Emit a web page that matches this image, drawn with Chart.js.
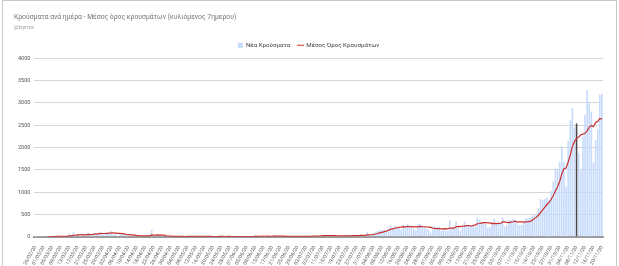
<!DOCTYPE html>
<html>
<head>
<meta charset="utf-8">
<script src="https://cdn.jsdelivr.net/npm/chart.js@4"></script>
<style>
    html, body { margin: 0; padding: 0; background: #fff; }
    #wrap {
        position: absolute; left: 2px; top: 0; width: 615px; height: 266px;
        border: 1px solid #c8c8c8; border-bottom: none; box-sizing: border-box;
    }
    canvas { display: block; }
</style>
</head>
<body>
<div id="wrap"><canvas id="casesChart"></canvas></div>
<script>
// daily new cases (26/02/20 .. 20/11/20)
const casesFeb = [1, 2, 0, 4];
const casesMar = [0, 0, 0, 2, 22, 14, 21, 7, 11, 5, 10, 18, 73, 38, 100, 21, 56, 31, 46, 31, 35, 94, 71, 69, 78, 71, 74, 95, 64, 60, 102];
const casesApr = [101, 129, 60, 62, 20, 62, 77, 56, 49, 18, 20, 25, 15, 22, 25, 33, 16, 23, 27, 12, 156, 11, 17, 48, 10, 10, 13, 17, 15, 15];
const casesMay = [7, 9, 8, 6, 7, 10, 3, 15, 11, 10, 6, 16, 16, 7, 10, 6, 9, 3, 9, 5, 3, 16, 13, 7, 3, 3, 10, 10, 5, 1, 2];
const casesJun = [11, 7, 1, 1, 7, 5, 7, 3, 40, 6, 14, 15, 10, 4, 10, 8, 12, 45, 23, 6, 11, 13, 7, 10, 16, 18, 8, 6, 6, 12];
const casesJul = [14, 8, 25, 7, 18, 20, 19, 16, 26, 48, 41, 21, 8, 19, 31, 33, 25, 28, 16, 9, 21, 25, 25, 35, 31, 34, 18, 28, 57, 37, 32];
const casesAug = [110, 33, 29, 78, 121, 124, 153, 151, 151, 126, 203, 262, 204, 254, 230, 217, 151, 269, 225, 284, 232, 209, 182, 150, 283, 293, 250, 212, 179, 169, 99];
const casesSep = [168, 241, 212, 224, 135, 163, 153, 128, 372, 196, 229, 339, 204, 136, 226, 344, 262, 262, 266, 260, 219, 435, 386, 338, 321, 289, 199, 213, 342, 410];
const casesOct = [288, 351, 294, 430, 226, 264, 376, 376, 400, 376, 301, 264, 264, 339, 414, 414, 430, 474, 490, 527, 640, 850, 828, 850, 881, 828, 1020, 1240, 1530, 1500, 1680];
const casesNov = [2033, 1680, 1130, 2146, 2613, 2890, 2450, 2540, 1880, 1490, 2250, 2730, 3290, 3030, 2810, 1670, 2170, 2410, 3185, 3200];

// 7-day rolling average (red line)
const avgFeb = [null, null, null, null];
const avgMar = [null, null, 1, 1, 4, 6, 9, 10, 12, 13, 13, 12, 20, 23, 35, 38, 45, 45, 52, 45, 45, 53, 51, 54, 59, 62, 70, 79, 75, 74, 78];
const avgApr = [81, 89, 87, 83, 76, 77, 73, 67, 55, 49, 43, 44, 37, 29, 25, 23, 22, 23, 23, 23, 42, 40, 37, 42, 40, 38, 38, 18, 19, 18];
const avgMay = [12, 12, 12, 11, 10, 9, 7, 8, 9, 9, 9, 10, 11, 11, 11, 10, 10, 8, 8, 6, 6, 7, 8, 8, 8, 7, 9, 9, 7, 6, 5];
const avgJun = [6, 6, 5, 5, 5, 5, 6, 4, 9, 10, 12, 13, 14, 13, 14, 10, 10, 15, 16, 15, 16, 17, 17, 11, 11, 12, 12, 11, 10, 11];
const avgJul = [11, 11, 11, 11, 12, 15, 16, 16, 19, 22, 27, 28, 26, 26, 28, 29, 25, 24, 23, 23, 22, 22, 21, 23, 26, 28, 27, 28, 33, 34, 34];
const avgAug = [45, 45, 47, 54, 63, 75, 93, 98, 115, 129, 147, 167, 179, 193, 204, 214, 217, 227, 221, 233, 230, 227, 222, 222, 224, 233, 228, 226, 221, 219, 212];
const avgSep = [196, 188, 183, 185, 178, 177, 185, 179, 198, 196, 197, 226, 232, 229, 243, 239, 249, 253, 243, 251, 263, 293, 299, 309, 318, 321, 312, 312, 298, 302];
const avgOct = [295, 299, 300, 333, 334, 323, 318, 331, 338, 350, 331, 337, 337, 331, 337, 339, 347, 371, 404, 441, 484, 546, 606, 666, 724, 772, 842, 928, 1025, 1121, 1240];
const avgNov = [1404, 1526, 1542, 1671, 1826, 2025, 2135, 2207, 2236, 2287, 2302, 2319, 2376, 2459, 2497, 2467, 2564, 2587, 2652, 2639];

const firstDay = [2020, 1, 26];   // 26/02/20
const markerDay = '08/11/20';     // the dark bar
const yTicks = [0, 500, 1000, 1500, 2000, 2500, 3000, 3500, 4000];

const newCases = [].concat(casesFeb, casesMar, casesApr, casesMay, casesJun, casesJul, casesAug, casesSep, casesOct, casesNov);
const movingAvg = [].concat(avgFeb, avgMar, avgApr, avgMay, avgJun, avgJul, avgAug, avgSep, avgOct, avgNov);

function pad(n) { return (n < 10 ? '0' : '') + n; }
const dayLabels = newCases.map((_, i) => {
    const d = new Date(firstDay[0], firstDay[1], firstDay[2] + i);
    return pad(d.getDate()) + '/' + pad(d.getMonth() + 1) + '/' + String(d.getFullYear()).slice(2);
});

Chart.defaults.font.family = 'Roboto, Arial, sans-serif';

const ctx = document.getElementById('casesChart').getContext('2d');
new Chart(ctx, {
    type: 'bar',
    data: {
        labels: dayLabels,
        datasets: [{
            type: 'bar',
            label: 'Νέα Κρούσματα',
            data: newCases,
            order: 2,
            backgroundColor: c => (c.dataIndex !== undefined && dayLabels[c.dataIndex] === markerDay) ? '#4a4a4a' : '#c6dafc',
            barPercentage: 0.75,
            categoryPercentage: 1,
            pointStyle: 'rect'
        }, {
            type: 'line',
            label: 'Μέσος Όρος Κρουσμάτων',
            data: movingAvg,
            order: 1,
            borderColor: '#c9302c',
            backgroundColor: '#c9302c',
            borderWidth: 1.2,
            pointRadius: 0,
            tension: 0,
            pointStyle: 'line'
        }]
    },
    options: {
        responsive: true,
        maintainAspectRatio: false,
        animation: false,
        layout: { padding: { left: 11, right: 13, top: 1, bottom: 0 } },
        plugins: {
            title: {
                display: true,
                text: 'Κρούσματα ανά ημέρα - Μέσος όρος κρουσμάτων (κυλιόμενος 7ημερου)',
                align: 'start',
                color: '#757575',
                font: { size: 6.8, weight: 'normal' },
                padding: { top: 11, bottom: 4 }
            },
            subtitle: {
                display: true,
                text: '@tsyrros',
                align: 'start',
                color: '#9e9e9e',
                font: { size: 5 },
                padding: { bottom: 3 }
            },
            legend: {
                position: 'top',
                labels: {
                    usePointStyle: true,
                    boxWidth: 5,
                    boxHeight: 5,
                    color: '#444',
                    font: { size: 6.2 },
                    padding: 8,
                    sort: (a, b) => a.datasetIndex - b.datasetIndex
                }
            },
            tooltip: { enabled: false }
        },
        scales: {
            x: {
                grid: { display: false },
                border: { display: true, color: '#9a9a9a', width: 2 },
                ticks: {
                    autoSkip: false,
                    minRotation: 60,
                    maxRotation: 60,
                    color: '#555',
                    font: { size: 5 },
                    padding: 0,
                    callback: (v, i) => (i % 4 === 0 ? dayLabels[i] : '')
                }
            },
            y: {
                min: 0,
                max: 4000,
                afterBuildTicks: axis => { axis.ticks = yTicks.map(v => ({ value: v })); },
                ticks: { color: '#555', font: { size: 5.5 }, padding: 4, callback: v => String(v) },
                grid: { color: '#d6d6d6', drawTicks: false },
                border: { display: false }
            }
        }
    }
});
</script>
</body>
</html>
